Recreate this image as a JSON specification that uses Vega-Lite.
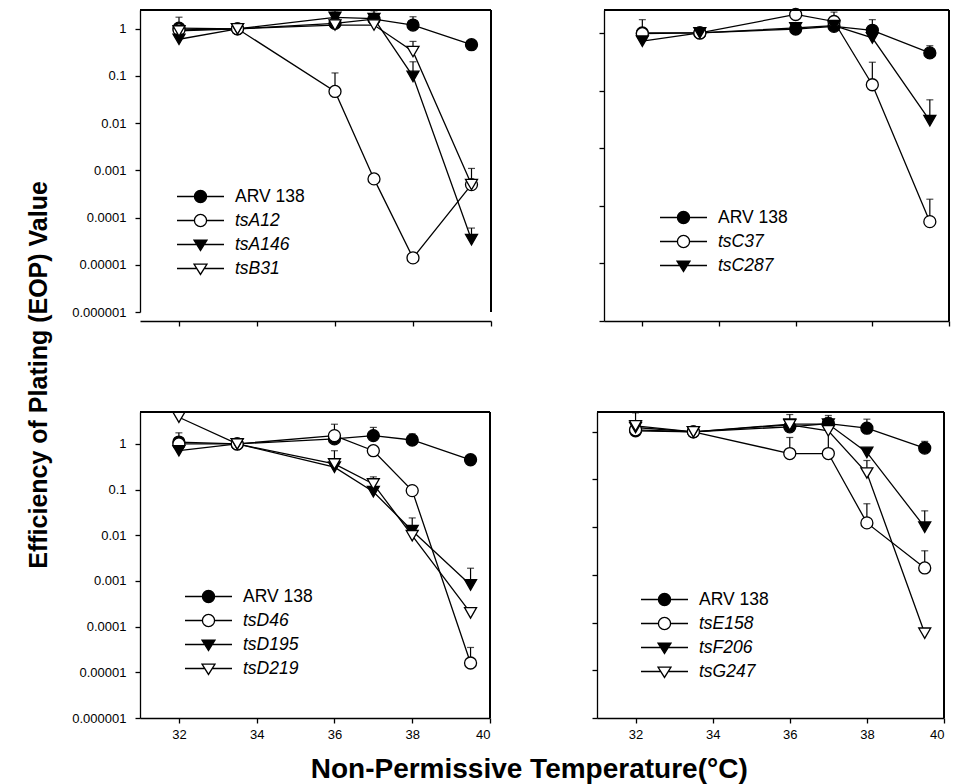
{
  "$schema": "https://vega.github.io/schema/vega-lite/v6.json",
  "background": "white",
  "padding": {"left": 26, "top": 5, "right": 5, "bottom": 0},
  "config": {
    "font": "Liberation Sans",
    "view": {"stroke": null},
    "axis": {"grid": false, "domainColor": "black", "domainWidth": 1.3, "tickColor": "black", "tickWidth": 1.3, "tickSize": 5, "labelColor": "black", "labelFontSize": 13, "labelFont": "Liberation Sans"},
    "legend": {"symbolStrokeColor": "black", "symbolStrokeWidth": 1.3, "symbolOpacity": 1, "symbolSize": 729, "labelFontSize": 17.5, "labelColor": "black", "labelFont": "Liberation Sans", "labelOffset": 20, "rowPadding": 0}
  },
  "title": {"text": "Efficiency of Plating (EOP) Value", "orient": "left", "anchor": "middle", "fontSize": 25, "fontWeight": "bold", "color": "black", "offset": 20, "dx": 20},
  "datasets": {
    "A": [
      {"s": "ARV 138", "t": 32, "v": 1.03, "hi": 1.76},
      {"s": "ARV 138", "t": 33.5, "v": 1},
      {"s": "ARV 138", "t": 36, "v": 1.3},
      {"s": "ARV 138", "t": 37, "v": 1.6},
      {"s": "ARV 138", "t": 38, "v": 1.2, "hi": 1.8},
      {"s": "ARV 138", "t": 39.5, "v": 0.46},
      {"s": "tsA12", "t": 32, "v": 0.95},
      {"s": "tsA12", "t": 33.5, "v": 1},
      {"s": "tsA12", "t": 36, "v": 0.047, "hi": 0.116},
      {"s": "tsA12", "t": 37, "v": 0.00066},
      {"s": "tsA12", "t": 38, "v": 0.000014},
      {"s": "tsA12", "t": 39.5, "v": 0.0005},
      {"s": "tsA146", "t": 32, "v": 0.6},
      {"s": "tsA146", "t": 33.5, "v": 1},
      {"s": "tsA146", "t": 36, "v": 1.75, "hi": 2.4},
      {"s": "tsA146", "t": 37, "v": 1.65, "hi": 2.4},
      {"s": "tsA146", "t": 38, "v": 0.098, "hi": 0.2},
      {"s": "tsA146", "t": 39.5, "v": 0.000034, "hi": 0.00006},
      {"s": "tsB31", "t": 32, "v": 0.9},
      {"s": "tsB31", "t": 33.5, "v": 1},
      {"s": "tsB31", "t": 36, "v": 1.2},
      {"s": "tsB31", "t": 37, "v": 1.2},
      {"s": "tsB31", "t": 38, "v": 0.33, "hi": 0.54},
      {"s": "tsB31", "t": 39.5, "v": 0.0005, "hi": 0.0011}
    ],
    "C": [
      {"s": "ARV 138", "t": 32, "v": 1.0, "hi": 1.7},
      {"s": "ARV 138", "t": 33.5, "v": 1},
      {"s": "ARV 138", "t": 36, "v": 1.17},
      {"s": "ARV 138", "t": 37, "v": 1.3},
      {"s": "ARV 138", "t": 38, "v": 1.11, "hi": 1.7},
      {"s": "ARV 138", "t": 39.5, "v": 0.45, "hi": 0.6},
      {"s": "tsC37", "t": 32, "v": 0.97},
      {"s": "tsC37", "t": 33.5, "v": 1},
      {"s": "tsC37", "t": 36, "v": 2.09},
      {"s": "tsC37", "t": 37, "v": 1.58, "hi": 2.3},
      {"s": "tsC37", "t": 38, "v": 0.126, "hi": 0.31},
      {"s": "tsC37", "t": 39.5, "v": 0.00053, "hi": 0.0013},
      {"s": "tsC287", "t": 32, "v": 0.72},
      {"s": "tsC287", "t": 33.5, "v": 1},
      {"s": "tsC287", "t": 36, "v": 1.22},
      {"s": "tsC287", "t": 37, "v": 1.34},
      {"s": "tsC287", "t": 38, "v": 0.82},
      {"s": "tsC287", "t": 39.5, "v": 0.03, "hi": 0.069}
    ],
    "D": [
      {"s": "ARV 138", "t": 32, "v": 1.1, "hi": 1.75},
      {"s": "ARV 138", "t": 33.5, "v": 1},
      {"s": "ARV 138", "t": 36, "v": 1.29},
      {"s": "ARV 138", "t": 37, "v": 1.52, "hi": 2.3},
      {"s": "ARV 138", "t": 38, "v": 1.22, "hi": 1.66},
      {"s": "ARV 138", "t": 39.5, "v": 0.45},
      {"s": "tsD46", "t": 32, "v": 1.0},
      {"s": "tsD46", "t": 33.5, "v": 1},
      {"s": "tsD46", "t": 36, "v": 1.52, "hi": 2.7},
      {"s": "tsD46", "t": 37, "v": 0.71},
      {"s": "tsD46", "t": 38, "v": 0.095},
      {"s": "tsD46", "t": 39.5, "v": 0.000016, "hi": 0.000035},
      {"s": "tsD195", "t": 32, "v": 0.71},
      {"s": "tsD195", "t": 33.5, "v": 1},
      {"s": "tsD195", "t": 36, "v": 0.31},
      {"s": "tsD195", "t": 37, "v": 0.09},
      {"s": "tsD195", "t": 38, "v": 0.0126, "hi": 0.024},
      {"s": "tsD195", "t": 39.5, "v": 0.00082, "hi": 0.0019},
      {"s": "tsD219", "t": 32, "v": 3.84},
      {"s": "tsD219", "t": 33.5, "v": 1},
      {"s": "tsD219", "t": 36, "v": 0.365, "hi": 0.71},
      {"s": "tsD219", "t": 37, "v": 0.133, "hi": 0.19},
      {"s": "tsD219", "t": 38, "v": 0.0098},
      {"s": "tsD219", "t": 39.5, "v": 0.0002}
    ],
    "E": [
      {"s": "ARV 138", "t": 32, "v": 1.05},
      {"s": "ARV 138", "t": 33.5, "v": 1},
      {"s": "ARV 138", "t": 36, "v": 1.27},
      {"s": "ARV 138", "t": 37, "v": 1.49, "hi": 2.2},
      {"s": "ARV 138", "t": 38, "v": 1.19, "hi": 1.84},
      {"s": "ARV 138", "t": 39.5, "v": 0.455, "hi": 0.63},
      {"s": "tsE158", "t": 32, "v": 1.1},
      {"s": "tsE158", "t": 33.5, "v": 1},
      {"s": "tsE158", "t": 36, "v": 0.35, "hi": 0.76},
      {"s": "tsE158", "t": 37, "v": 0.35, "hi": 1.45},
      {"s": "tsE158", "t": 38, "v": 0.0123, "hi": 0.031},
      {"s": "tsE158", "t": 39.5, "v": 0.0014, "hi": 0.0032},
      {"s": "tsF206", "t": 32, "v": 1.23},
      {"s": "tsF206", "t": 33.5, "v": 1},
      {"s": "tsF206", "t": 36, "v": 1.45},
      {"s": "tsF206", "t": 37, "v": 1.45},
      {"s": "tsF206", "t": 38, "v": 0.37},
      {"s": "tsF206", "t": 39.5, "v": 0.01, "hi": 0.022},
      {"s": "tsG247", "t": 32, "v": 1.33, "hi": 2.5},
      {"s": "tsG247", "t": 33.5, "v": 1},
      {"s": "tsG247", "t": 36, "v": 1.4, "hi": 2.3},
      {"s": "tsG247", "t": 37, "v": 1.05, "hi": 2.0},
      {"s": "tsG247", "t": 38, "v": 0.137, "hi": 0.25},
      {"s": "tsG247", "t": 39.5, "v": 0.00006}
    ]
  },
  "spacing": 82,
  "resolve": {"scale": {"shape": "independent", "fill": "independent"}, "legend": {"shape": "independent", "fill": "independent"}},
  "vconcat": [
    {
      "spacing": 106,
      "resolve": {"scale": {"shape": "independent", "fill": "independent"}, "legend": {"shape": "independent", "fill": "independent"}},
      "hconcat": [
        {
          "width": 351, "height": 302,
          "data": {"name": "A"},
          "resolve": {"scale": {"shape": "independent", "fill": "independent"}},
          "layer": [
            {"mark": {"type": "line", "color": "black", "strokeWidth": 1.3},
             "encoding": {
               "x": {"field": "t", "type": "quantitative", "title": null, "scale": {"domain": [31, 40], "nice": false, "zero": false}, "axis": {"values": [32, 34, 36, 38, 40], "labels": false, "offset": 9}},
               "y": {"field": "v", "type": "quantitative", "title": null, "scale": {"type": "log", "domain": [0.000001, 2.5], "nice": false}, "axis": {"values": [0.000001, 0.00001, 0.0001, 0.001, 0.01, 0.1, 1], "format": ".6~f", "labelPadding": 9}},
               "detail": {"field": "s"}}},
            {"transform": [{"filter": "isValid(datum.hi)"}],
             "mark": {"type": "rule", "color": "black", "strokeWidth": 1.2},
             "encoding": {"x": {"field": "t", "type": "quantitative", "title": null}, "y": {"field": "v", "type": "quantitative", "title": null}, "y2": {"field": "hi"}}},
            {"transform": [{"filter": "isValid(datum.hi)"}],
             "mark": {"type": "tick", "orient": "horizontal", "color": "black", "size": 7, "thickness": 1.2},
             "encoding": {"x": {"field": "t", "type": "quantitative", "title": null}, "y": {"field": "hi", "type": "quantitative", "title": null}}},
            {"mark": {"type": "point", "stroke": "black", "strokeWidth": 1.3, "size": 144, "opacity": 1},
             "encoding": {"x": {"field": "t", "type": "quantitative", "title": null}, "y": {"field": "v", "type": "quantitative", "title": null},
               "shape": {"field": "s", "scale": {"domain": ["ARV 138", "tsA12", "tsA146", "tsB31"], "range": ["circle", "circle", "triangle-down", "triangle-down"]}, "legend": null},
               "fill": {"field": "s", "scale": {"domain": ["ARV 138", "tsA12", "tsA146", "tsB31"], "range": ["black", "white", "black", "white"]}, "legend": null}}},
            {"mark": {"type": "point", "stroke": "black", "strokeWidth": 1.3, "opacity": 0},
             "encoding": {"x": {"field": "t", "type": "quantitative", "title": null}, "y": {"field": "v", "type": "quantitative", "title": null},
               "shape": {"field": "s", "scale": {"domain": ["ARV 138", "tsA12", "tsA146", "tsB31"], "range": ["M-1.74,0L-0.45,0M0.45,0L1.74,0M0.45,0A0.45,0.45,0,1,1,-0.45,0A0.45,0.45,0,1,1,0.45,0Z", "M-1.74,0L-0.45,0M0.45,0L1.74,0M0.45,0A0.45,0.45,0,1,1,-0.45,0A0.45,0.45,0,1,1,0.45,0Z", "M-1.74,0L-0.27,0M0.27,0L1.74,0M-0.48,-0.33L0.48,-0.33L0,0.44Z", "M-1.74,0L-0.27,0M0.27,0L1.74,0M-0.48,-0.33L0.48,-0.33L0,0.44Z"]},
                 "legend": {"title": null, "orient": "none", "legendX": 46, "legendY": 172, "encode": {"labels": {"update": {"fontStyle": {"signal": "datum.value === 'ARV 138' ? 'normal' : 'italic'"}}}}}},
               "fill": {"field": "s", "scale": {"domain": ["ARV 138", "tsA12", "tsA146", "tsB31"], "range": ["black", "white", "black", "white"]},
                 "legend": {"title": null, "orient": "none", "legendX": 46, "legendY": 172, "encode": {"labels": {"update": {"fontStyle": {"signal": "datum.value === 'ARV 138' ? 'normal' : 'italic'"}}}}}}}},
            {"mark": {"type": "rule", "color": "black", "strokeWidth": 1.3}, "encoding": {"y": {"datum": 2.5}}},
            {"mark": {"type": "rule", "color": "black", "strokeWidth": 1.3}, "encoding": {"x": {"datum": 40}}}
          ]
        },
        {
          "width": 345, "height": 311,
          "data": {"name": "C"},
          "resolve": {"scale": {"shape": "independent", "fill": "independent"}},
          "layer": [
            {"mark": {"type": "line", "color": "black", "strokeWidth": 1.3},
             "encoding": {
               "x": {"field": "t", "type": "quantitative", "title": null, "scale": {"domain": [31, 40], "nice": false, "zero": false}, "axis": {"values": [32, 34, 36, 38, 40], "labels": false}},
               "y": {"field": "v", "type": "quantitative", "title": null, "scale": {"type": "log", "domain": [0.00001, 2.5], "nice": false}, "axis": {"values": [0.00001, 0.0001, 0.001, 0.01, 0.1, 1], "labels": false}},
               "detail": {"field": "s"}}},
            {"transform": [{"filter": "isValid(datum.hi)"}],
             "mark": {"type": "rule", "color": "black", "strokeWidth": 1.2},
             "encoding": {"x": {"field": "t", "type": "quantitative", "title": null}, "y": {"field": "v", "type": "quantitative", "title": null}, "y2": {"field": "hi"}}},
            {"transform": [{"filter": "isValid(datum.hi)"}],
             "mark": {"type": "tick", "orient": "horizontal", "color": "black", "size": 7, "thickness": 1.2},
             "encoding": {"x": {"field": "t", "type": "quantitative", "title": null}, "y": {"field": "hi", "type": "quantitative", "title": null}}},
            {"mark": {"type": "point", "stroke": "black", "strokeWidth": 1.3, "size": 144, "opacity": 1},
             "encoding": {"x": {"field": "t", "type": "quantitative", "title": null}, "y": {"field": "v", "type": "quantitative", "title": null},
               "shape": {"field": "s", "scale": {"domain": ["ARV 138", "tsC37", "tsC287"], "range": ["circle", "circle", "triangle-down"]}, "legend": null},
               "fill": {"field": "s", "scale": {"domain": ["ARV 138", "tsC37", "tsC287"], "range": ["black", "white", "black"]}, "legend": null}}},
            {"mark": {"type": "point", "stroke": "black", "strokeWidth": 1.3, "opacity": 0},
             "encoding": {"x": {"field": "t", "type": "quantitative", "title": null}, "y": {"field": "v", "type": "quantitative", "title": null},
               "shape": {"field": "s", "scale": {"domain": ["ARV 138", "tsC37", "tsC287"], "range": ["M-1.74,0L-0.45,0M0.45,0L1.74,0M0.45,0A0.45,0.45,0,1,1,-0.45,0A0.45,0.45,0,1,1,0.45,0Z", "M-1.74,0L-0.45,0M0.45,0L1.74,0M0.45,0A0.45,0.45,0,1,1,-0.45,0A0.45,0.45,0,1,1,0.45,0Z", "M-1.74,0L-0.27,0M0.27,0L1.74,0M-0.48,-0.33L0.48,-0.33L0,0.44Z"]},
                 "legend": {"title": null, "orient": "none", "legendX": 65, "legendY": 193, "encode": {"labels": {"update": {"fontStyle": {"signal": "datum.value === 'ARV 138' ? 'normal' : 'italic'"}}}}}},
               "fill": {"field": "s", "scale": {"domain": ["ARV 138", "tsC37", "tsC287"], "range": ["black", "white", "black"]},
                 "legend": {"title": null, "orient": "none", "legendX": 65, "legendY": 193, "encode": {"labels": {"update": {"fontStyle": {"signal": "datum.value === 'ARV 138' ? 'normal' : 'italic'"}}}}}}}},
            {"mark": {"type": "rule", "color": "black", "strokeWidth": 1.3}, "encoding": {"y": {"datum": 2.5}}},
            {"mark": {"type": "rule", "color": "black", "strokeWidth": 1.3}, "encoding": {"x": {"datum": 40}}}
          ]
        }
      ]
    },
    {
      "spacing": 100,
      "resolve": {"scale": {"shape": "independent", "fill": "independent"}, "legend": {"shape": "independent", "fill": "independent"}},
      "title": {"text": "Non-Permissive Temperature(°C)", "orient": "bottom", "anchor": "middle", "fontSize": 28, "fontWeight": "bold", "color": "black", "offset": 15, "dx": 21},
      "hconcat": [
        {
          "width": 350, "height": 306,
          "data": {"name": "D"},
          "resolve": {"scale": {"shape": "independent", "fill": "independent"}},
          "layer": [
            {"mark": {"type": "line", "color": "black", "strokeWidth": 1.3},
             "encoding": {
               "x": {"field": "t", "type": "quantitative", "title": null, "scale": {"domain": [31, 40], "nice": false, "zero": false}, "axis": {"values": [32, 34, 36, 38, 40], "labelPadding": 5}},
               "y": {"field": "v", "type": "quantitative", "title": null, "scale": {"type": "log", "domain": [0.000001, 5], "nice": false}, "axis": {"values": [0.000001, 0.00001, 0.0001, 0.001, 0.01, 0.1, 1], "format": ".6~f", "labelPadding": 9}},
               "detail": {"field": "s"}}},
            {"transform": [{"filter": "isValid(datum.hi)"}],
             "mark": {"type": "rule", "color": "black", "strokeWidth": 1.2},
             "encoding": {"x": {"field": "t", "type": "quantitative", "title": null}, "y": {"field": "v", "type": "quantitative", "title": null}, "y2": {"field": "hi"}}},
            {"transform": [{"filter": "isValid(datum.hi)"}],
             "mark": {"type": "tick", "orient": "horizontal", "color": "black", "size": 7, "thickness": 1.2},
             "encoding": {"x": {"field": "t", "type": "quantitative", "title": null}, "y": {"field": "hi", "type": "quantitative", "title": null}}},
            {"mark": {"type": "point", "stroke": "black", "strokeWidth": 1.3, "size": 144, "opacity": 1},
             "encoding": {"x": {"field": "t", "type": "quantitative", "title": null}, "y": {"field": "v", "type": "quantitative", "title": null},
               "shape": {"field": "s", "scale": {"domain": ["ARV 138", "tsD46", "tsD195", "tsD219"], "range": ["circle", "circle", "triangle-down", "triangle-down"]}, "legend": null},
               "fill": {"field": "s", "scale": {"domain": ["ARV 138", "tsD46", "tsD195", "tsD219"], "range": ["black", "white", "black", "white"]}, "legend": null}}},
            {"mark": {"type": "point", "stroke": "black", "strokeWidth": 1.3, "opacity": 0},
             "encoding": {"x": {"field": "t", "type": "quantitative", "title": null}, "y": {"field": "v", "type": "quantitative", "title": null},
               "shape": {"field": "s", "scale": {"domain": ["ARV 138", "tsD46", "tsD195", "tsD219"], "range": ["M-1.74,0L-0.45,0M0.45,0L1.74,0M0.45,0A0.45,0.45,0,1,1,-0.45,0A0.45,0.45,0,1,1,0.45,0Z", "M-1.74,0L-0.45,0M0.45,0L1.74,0M0.45,0A0.45,0.45,0,1,1,-0.45,0A0.45,0.45,0,1,1,0.45,0Z", "M-1.74,0L-0.27,0M0.27,0L1.74,0M-0.48,-0.33L0.48,-0.33L0,0.44Z", "M-1.74,0L-0.27,0M0.27,0L1.74,0M-0.48,-0.33L0.48,-0.33L0,0.44Z"]},
                 "legend": {"title": null, "orient": "none", "legendX": 54, "legendY": 170, "encode": {"labels": {"update": {"fontStyle": {"signal": "datum.value === 'ARV 138' ? 'normal' : 'italic'"}}}}}},
               "fill": {"field": "s", "scale": {"domain": ["ARV 138", "tsD46", "tsD195", "tsD219"], "range": ["black", "white", "black", "white"]},
                 "legend": {"title": null, "orient": "none", "legendX": 54, "legendY": 170, "encode": {"labels": {"update": {"fontStyle": {"signal": "datum.value === 'ARV 138' ? 'normal' : 'italic'"}}}}}}}},
            {"mark": {"type": "rule", "color": "black", "strokeWidth": 1.3}, "encoding": {"y": {"datum": 5}}},
            {"mark": {"type": "rule", "color": "black", "strokeWidth": 1.3}, "encoding": {"x": {"datum": 40}}}
          ]
        },
        {
          "width": 347, "height": 306,
          "data": {"name": "E"},
          "resolve": {"scale": {"shape": "independent", "fill": "independent"}},
          "layer": [
            {"mark": {"type": "line", "color": "black", "strokeWidth": 1.3},
             "encoding": {
               "x": {"field": "t", "type": "quantitative", "title": null, "scale": {"domain": [31, 40], "nice": false, "zero": false}, "axis": {"values": [32, 34, 36, 38, 40], "labelPadding": 5}},
               "y": {"field": "v", "type": "quantitative", "title": null, "scale": {"type": "log", "domain": [0.000001, 2.6], "nice": false}, "axis": {"values": [0.000001, 0.00001, 0.0001, 0.001, 0.01, 0.1, 1], "labels": false}},
               "detail": {"field": "s"}}},
            {"transform": [{"filter": "isValid(datum.hi)"}],
             "mark": {"type": "rule", "color": "black", "strokeWidth": 1.2},
             "encoding": {"x": {"field": "t", "type": "quantitative", "title": null}, "y": {"field": "v", "type": "quantitative", "title": null}, "y2": {"field": "hi"}}},
            {"transform": [{"filter": "isValid(datum.hi)"}],
             "mark": {"type": "tick", "orient": "horizontal", "color": "black", "size": 7, "thickness": 1.2},
             "encoding": {"x": {"field": "t", "type": "quantitative", "title": null}, "y": {"field": "hi", "type": "quantitative", "title": null}}},
            {"mark": {"type": "point", "stroke": "black", "strokeWidth": 1.3, "size": 144, "opacity": 1},
             "encoding": {"x": {"field": "t", "type": "quantitative", "title": null}, "y": {"field": "v", "type": "quantitative", "title": null},
               "shape": {"field": "s", "scale": {"domain": ["ARV 138", "tsE158", "tsF206", "tsG247"], "range": ["circle", "circle", "triangle-down", "triangle-down"]}, "legend": null},
               "fill": {"field": "s", "scale": {"domain": ["ARV 138", "tsE158", "tsF206", "tsG247"], "range": ["black", "white", "black", "white"]}, "legend": null}}},
            {"mark": {"type": "point", "stroke": "black", "strokeWidth": 1.3, "opacity": 0},
             "encoding": {"x": {"field": "t", "type": "quantitative", "title": null}, "y": {"field": "v", "type": "quantitative", "title": null},
               "shape": {"field": "s", "scale": {"domain": ["ARV 138", "tsE158", "tsF206", "tsG247"], "range": ["M-1.74,0L-0.45,0M0.45,0L1.74,0M0.45,0A0.45,0.45,0,1,1,-0.45,0A0.45,0.45,0,1,1,0.45,0Z", "M-1.74,0L-0.45,0M0.45,0L1.74,0M0.45,0A0.45,0.45,0,1,1,-0.45,0A0.45,0.45,0,1,1,0.45,0Z", "M-1.74,0L-0.27,0M0.27,0L1.74,0M-0.48,-0.33L0.48,-0.33L0,0.44Z", "M-1.74,0L-0.27,0M0.27,0L1.74,0M-0.48,-0.33L0.48,-0.33L0,0.44Z"]},
                 "legend": {"title": null, "orient": "none", "legendX": 53, "legendY": 173, "encode": {"labels": {"update": {"fontStyle": {"signal": "datum.value === 'ARV 138' ? 'normal' : 'italic'"}}}}}},
               "fill": {"field": "s", "scale": {"domain": ["ARV 138", "tsE158", "tsF206", "tsG247"], "range": ["black", "white", "black", "white"]},
                 "legend": {"title": null, "orient": "none", "legendX": 53, "legendY": 173, "encode": {"labels": {"update": {"fontStyle": {"signal": "datum.value === 'ARV 138' ? 'normal' : 'italic'"}}}}}}}},
            {"mark": {"type": "rule", "color": "black", "strokeWidth": 1.3}, "encoding": {"y": {"datum": 2.6}}},
            {"mark": {"type": "rule", "color": "black", "strokeWidth": 1.3}, "encoding": {"x": {"datum": 40}}}
          ]
        }
      ]
    }
  ]
}
